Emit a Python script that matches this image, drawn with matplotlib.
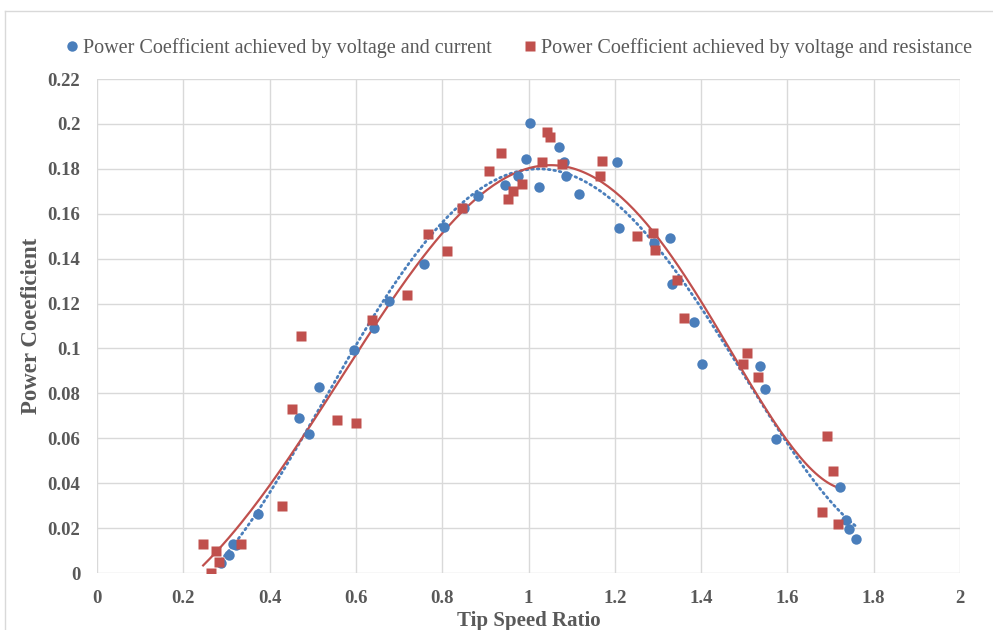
import numpy as np
import matplotlib.pyplot as plt
from matplotlib.lines import Line2D

# Tip speed ratio / power coefficient, voltage & current method
tsr_vi = [0.287, 0.305, 0.316, 0.322, 0.374, 0.468, 0.492, 0.514, 0.596, 0.642,
          0.677, 0.757, 0.805, 0.850, 0.884, 0.946, 0.976, 0.994, 1.003, 1.025,
          1.071, 1.082, 1.088, 1.118, 1.206, 1.210, 1.292, 1.327, 1.333, 1.384,
          1.401, 1.537, 1.548, 1.573, 1.721, 1.735, 1.743, 1.758]
cp_vi = [0.0045, 0.0082, 0.0128, 0.0125, 0.0261, 0.069, 0.062, 0.083, 0.0993, 0.109,
         0.1211, 0.1378, 0.1543, 0.1626, 0.168, 0.173, 0.177, 0.1844, 0.2004, 0.172,
         0.1896, 0.1832, 0.1767, 0.169, 0.183, 0.1537, 0.147, 0.149, 0.1286, 0.112,
         0.093, 0.092, 0.082, 0.0597, 0.0384, 0.0235, 0.0197, 0.015]

# voltage & resistance method
tsr_vr = [0.246, 0.264, 0.276, 0.283, 0.334, 0.428, 0.452, 0.473, 0.557, 0.601,
          0.638, 0.718, 0.768, 0.810, 0.847, 0.908, 0.936, 0.953, 0.963, 0.984,
          1.031, 1.042, 1.050, 1.078, 1.166, 1.170, 1.251, 1.288, 1.293, 1.345,
          1.361, 1.496, 1.507, 1.533, 1.680, 1.692, 1.705, 1.717]
cp_vr = [0.0129, 0.0, 0.0098, 0.005, 0.0129, 0.030, 0.073, 0.1055, 0.068, 0.067,
         0.1127, 0.124, 0.151, 0.1436, 0.1624, 0.179, 0.187, 0.1667, 0.170, 0.1734,
         0.1832, 0.1966, 0.1943, 0.182, 0.1768, 0.1835, 0.150, 0.1516, 0.1439, 0.1305,
         0.1137, 0.093, 0.098, 0.0872, 0.0272, 0.061, 0.0456, 0.0218]

label_vi = 'Power Coefficient achieved by voltage and current'
label_vr = 'Power Coefficient achieved by voltage and resistance'

blue = '#4a7ebb'
red = '#c0504d'
grey = '#595959'

plt.rcParams['font.family'] = ['Liberation Serif', 'DejaVu Serif']

fig = plt.figure(figsize=(9.93, 6.3), dpi=100)
ax = fig.add_axes([97/993, 57/630, 863/993, 494/630])

# polynomial trendlines (like excel)
xv = np.array(tsr_vi)
xr = np.array(tsr_vr)
pv = np.polyfit(xv, cp_vi, 4)
pr = np.polyfit(xr, cp_vr, 5)
sv = np.linspace(xv.min(), xv.max(), 200)
sr = np.linspace(xr.min(), xr.max(), 200)
ax.plot(sv, np.polyval(pv, sv), color=blue, lw=2, ls=(0, (0.6, 1.4)),
        dash_capstyle='round', zorder=2)
ax.plot(sr, np.polyval(pr, sr), color=red, lw=1.6, zorder=2)

ax.plot(tsr_vi, cp_vi, 'o', color=blue, ms=7.5, mec='none', zorder=3)
ax.plot(tsr_vr, cp_vr, 's', color=red, ms=7, mec='none', zorder=3)

ax.set_xlim(0, 2)
ax.set_ylim(0, 0.22)
ax.set_xticks(np.arange(0, 2.01, 0.2))
ax.set_yticks(np.arange(0, 0.221, 0.02))
ax.set_xticklabels(['0', '0.2', '0.4', '0.6', '0.8', '1', '1.2', '1.4', '1.6', '1.8', '2'])
ax.set_yticklabels(['0', '0.02', '0.04', '0.06', '0.08', '0.1', '0.12', '0.14',
                    '0.16', '0.18', '0.2', '0.22'])
ax.grid(True, color='#d9d9d9', lw=1)
ax.set_axisbelow(True)
for s in ax.spines.values():
    s.set_visible(False)
ax.tick_params(length=0, labelsize=13.5, labelcolor=grey, pad=12)
for t in ax.get_xticklabels() + ax.get_yticklabels():
    t.set_fontweight('bold')

ax.set_xlabel('Tip Speed Ratio', fontsize=15, fontweight='bold', color=grey, labelpad=3)
ax.set_ylabel('Power Coeeficient', fontsize=16.5, fontweight='bold', color=grey, labelpad=4)

handles = [Line2D([], [], marker='o', ls='none', color=blue, ms=7.5, mec='none'),
           Line2D([], [], marker='s', ls='none', color=red, ms=7, mec='none')]
fig.legend(handles, [label_vi, label_vr], loc='center', bbox_to_anchor=(517/993, 1 - 48/630),
           ncol=2, frameon=False, fontsize=14.5, labelcolor=grey,
           handletextpad=0.05, columnspacing=1.4, handlelength=1)

# chart border (excel chart area)
fig.add_artist(Line2D([5/993, 1], [1 - 11/630, 1 - 11/630], color='#d9d9d9', lw=1))
fig.add_artist(Line2D([5/993, 5/993], [0, 1 - 11/630], color='#d9d9d9', lw=1))

fig.savefig('out.png', dpi=100)
